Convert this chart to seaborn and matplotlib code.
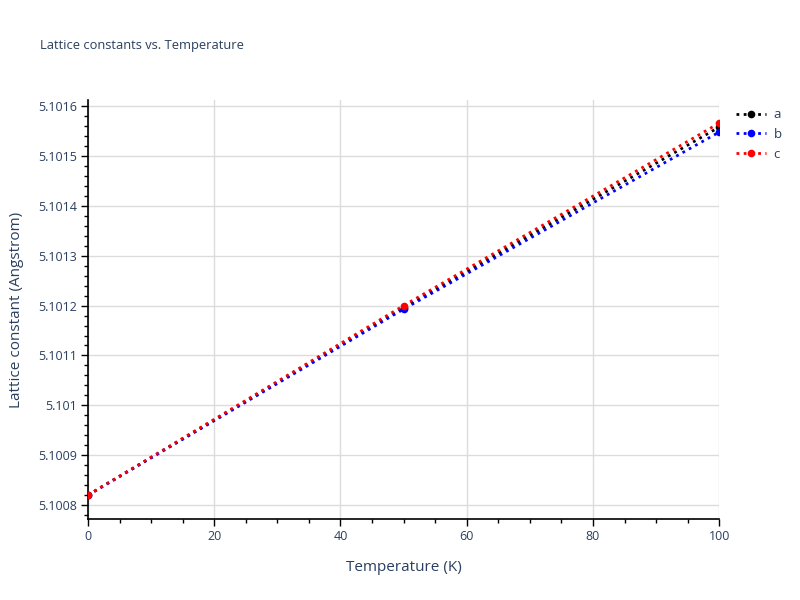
import pandas as pd
import matplotlib.pyplot as plt
import seaborn as sns
from matplotlib.ticker import MultipleLocator
from matplotlib.lines import Line2D

# ======================
# DATA
# ======================
temperature = [0, 50, 100]
a_values = [5.100820, 5.101196, 5.101558]
b_values = [5.100820, 5.101193, 5.101548]
c_values = [5.100820, 5.101200, 5.101566]
series_names = ["a", "b", "c"]
series_colors = ["black", "blue", "red"]

df = pd.DataFrame({
    "Temperature": temperature * 3,
    "Lattice": a_values + b_values + c_values,
    "param": ["a"] * 3 + ["b"] * 3 + ["c"] * 3,
})

# ======================
# STYLE
# ======================
sns.set_style("white")
plt.rcParams["font.family"] = ["Open Sans", "DejaVu Sans"]
text_color = "#2a3f5f"
dot_dashes = [1.0, 1.6]

fig = plt.figure(figsize=(8, 6), dpi=100)
ax = fig.add_axes([0.11, 0.135, 0.789, 0.698])

sns.lineplot(
    data=df,
    x="Temperature",
    y="Lattice",
    hue="param",
    palette=dict(zip(series_names, series_colors)),
    marker="o",
    markersize=5.5,
    markeredgewidth=0,
    linewidth=2,
    ax=ax,
    legend=False,
    zorder=3,
)
for line in ax.get_lines():
    line.set_dashes(dot_dashes)

ax.set_xlim(0, 100)
ax.set_ylim(5.100772, 5.101612)

ax.xaxis.set_major_locator(MultipleLocator(20))
ax.xaxis.set_minor_locator(MultipleLocator(5))
ax.yaxis.set_major_locator(MultipleLocator(0.0001))
ax.yaxis.set_minor_locator(MultipleLocator(0.00002))


def fmt_y(v, pos):
    return f"{v:.4f}".rstrip("0").rstrip(".")


ax.yaxis.set_major_formatter(plt.FuncFormatter(fmt_y))

ax.grid(True, which="major", color="#dcdcdc", linewidth=1)
ax.set_axisbelow(True)
for side in ["top", "right"]:
    ax.spines[side].set_visible(False)
for side in ["left", "bottom"]:
    ax.spines[side].set_color("black")
    ax.spines[side].set_linewidth(1.2)

ax.tick_params(axis="both", which="major", direction="out", length=5,
               width=1, color="black", labelsize=9, labelcolor=text_color,
               bottom=True, left=True, pad=3)
ax.tick_params(axis="both", which="minor", direction="out", length=3,
               width=1, color="black", bottom=True, left=True)

ax.set_xlabel("Temperature (K)", fontsize=11, color=text_color, labelpad=12)
ax.set_ylabel("Lattice constant (Angstrom)", fontsize=11, color=text_color,
              labelpad=10)

fig.text(0.05, 0.925, "Lattice constants vs. Temperature", fontsize=9.3,
         color=text_color, ha="left", va="center")

handles = [
    Line2D([0], [0], color=c, linewidth=2, dashes=dot_dashes, marker="o",
           markersize=5.5, markeredgewidth=0)
    for c in series_colors
]
leg = fig.legend(handles, series_names, loc="upper left",
                 bbox_to_anchor=(0.914, 0.828), frameon=False, fontsize=9.5,
                 handlelength=2.2, handletextpad=0.6, labelspacing=0.5,
                 borderaxespad=0)
for t in leg.get_texts():
    t.set_color(text_color)

fig.savefig("out.png", dpi=100)
